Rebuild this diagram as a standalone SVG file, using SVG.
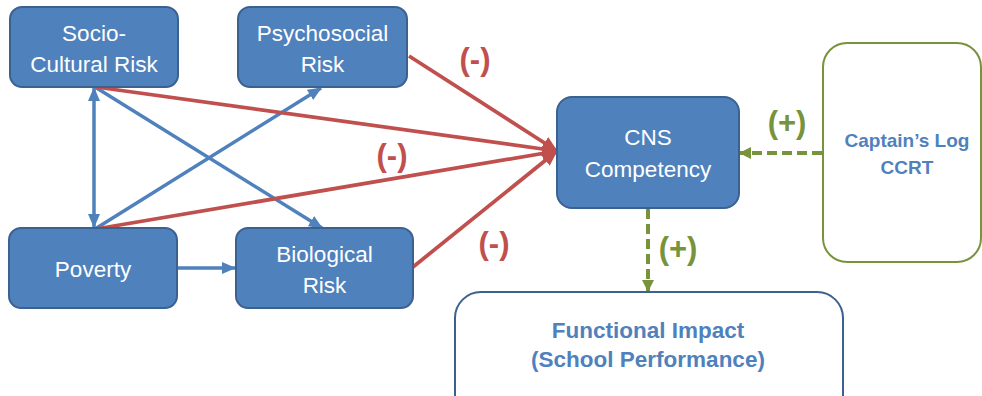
<svg xmlns="http://www.w3.org/2000/svg" width="982" height="396" viewBox="0 0 982 396">
  <style>
    .risk rect { fill: #4F81BD; stroke: #3A6190; stroke-width: 2; }
    .risk text { fill: #FFFFFF; font-family: "Liberation Sans", Arial, sans-serif; font-size: 22.5px; text-anchor: middle; }
    .outcome text { fill: #4F81BD; font-family: "Liberation Sans", Arial, sans-serif; font-weight: bold; text-anchor: middle; }
    .blue { stroke: #4F81BD; stroke-width: 3.5; fill: none; }
    .red { stroke: #C0504D; stroke-width: 3.75; fill: none; }
    .green { stroke: #77933C; stroke-width: 4; fill: none; stroke-dasharray: 10 5; }
    .sign { font-family: "Liberation Sans", Arial, sans-serif; font-weight: bold; font-size: 31px; text-anchor: middle; }
  </style>
  <defs>
    <marker id="headBlue" markerUnits="userSpaceOnUse" markerWidth="14" markerHeight="12" refX="13" refY="6" orient="auto-start-reverse">
      <path d="M0,0 L14,6 L0,12 Z" fill="#4F81BD"/>
    </marker>
    <marker id="headRed" markerUnits="userSpaceOnUse" markerWidth="16" markerHeight="14" refX="15" refY="7" orient="auto">
      <path d="M0,0 L16,7 L0,14 Z" fill="#C0504D"/>
    </marker>
    <marker id="headGreen" markerUnits="userSpaceOnUse" markerWidth="12" markerHeight="12" refX="11" refY="6" orient="auto">
      <path d="M0,0 L12,6 L0,12 Z" fill="#77933C"/>
    </marker>
  </defs>

  <rect width="982" height="396" fill="#FFFFFF"/>

  <!-- connectors -->
  <g id="connectors">
    <line class="blue" x1="94" y1="88" x2="94" y2="227" marker-start="url(#headBlue)" marker-end="url(#headBlue)"/>
    <line class="blue" x1="95" y1="229" x2="321" y2="88" marker-end="url(#headBlue)"/>
    <line class="blue" x1="95" y1="87" x2="322" y2="228" marker-end="url(#headBlue)"/>
    <line class="blue" x1="177" y1="268" x2="235" y2="268" marker-end="url(#headBlue)"/>

    <line class="red" x1="409" y1="56" x2="557" y2="151" marker-end="url(#headRed)"/>
    <line class="red" x1="96" y1="87" x2="557" y2="151" marker-end="url(#headRed)"/>
    <line class="red" x1="96" y1="229" x2="557" y2="151" marker-end="url(#headRed)"/>
    <line class="red" x1="413" y1="267" x2="557" y2="151" marker-end="url(#headRed)"/>

    <line class="green" x1="822" y1="153" x2="740" y2="153" marker-end="url(#headGreen)"/>
    <line class="green" x1="648" y1="209" x2="648" y2="291" marker-end="url(#headGreen)"/>

    <text class="sign" x="475" y="70" fill="#C0504D">(-)</text>
    <text class="sign" x="392" y="166" fill="#C0504D">(-)</text>
    <text class="sign" x="494" y="254" fill="#C0504D">(-)</text>
    <text class="sign" x="787" y="133" fill="#77933C">(+)</text>
    <text class="sign" x="678" y="259" fill="#77933C">(+)</text>
  </g>

  <!-- risk factor nodes -->
  <g id="socio-cultural" class="risk">
    <rect x="10" y="7" width="168" height="80" rx="12"/>
    <text x="94" y="41">Socio-</text>
    <text x="94" y="72">Cultural Risk</text>
  </g>
  <g id="psychosocial" class="risk">
    <rect x="238" y="7" width="169" height="80" rx="12"/>
    <text x="322.5" y="41">Psychosocial</text>
    <text x="322.5" y="72">Risk</text>
  </g>
  <g id="poverty" class="risk">
    <rect x="9" y="228" width="168" height="80" rx="12"/>
    <text x="93" y="277">Poverty</text>
  </g>
  <g id="biological" class="risk">
    <rect x="236" y="228" width="177" height="80" rx="12"/>
    <text x="324.5" y="262">Biological</text>
    <text x="324.5" y="293">Risk</text>
  </g>
  <g id="cns" class="risk">
    <rect x="557" y="97" width="182" height="111" rx="15"/>
    <text x="648" y="145">CNS</text>
    <text x="648" y="177">Competency</text>
  </g>

  <!-- intervention and outcome nodes -->
  <g id="captains-log" class="outcome">
    <rect x="823" y="43" width="158" height="219" rx="24" fill="#FFFFFF" stroke="#77933C" stroke-width="2"/>
    <text x="907" y="147" font-size="19">Captain’s Log</text>
    <text x="907" y="174" font-size="19">CCRT</text>
  </g>
  <g id="functional-impact" class="outcome">
    <rect x="455" y="292" width="388" height="130" rx="26" fill="#FFFFFF" stroke="#3A6190" stroke-width="2"/>
    <text x="648" y="338" font-size="22.5">Functional Impact</text>
    <text x="648" y="367" font-size="22.5">(School Performance)</text>
  </g>
</svg>
